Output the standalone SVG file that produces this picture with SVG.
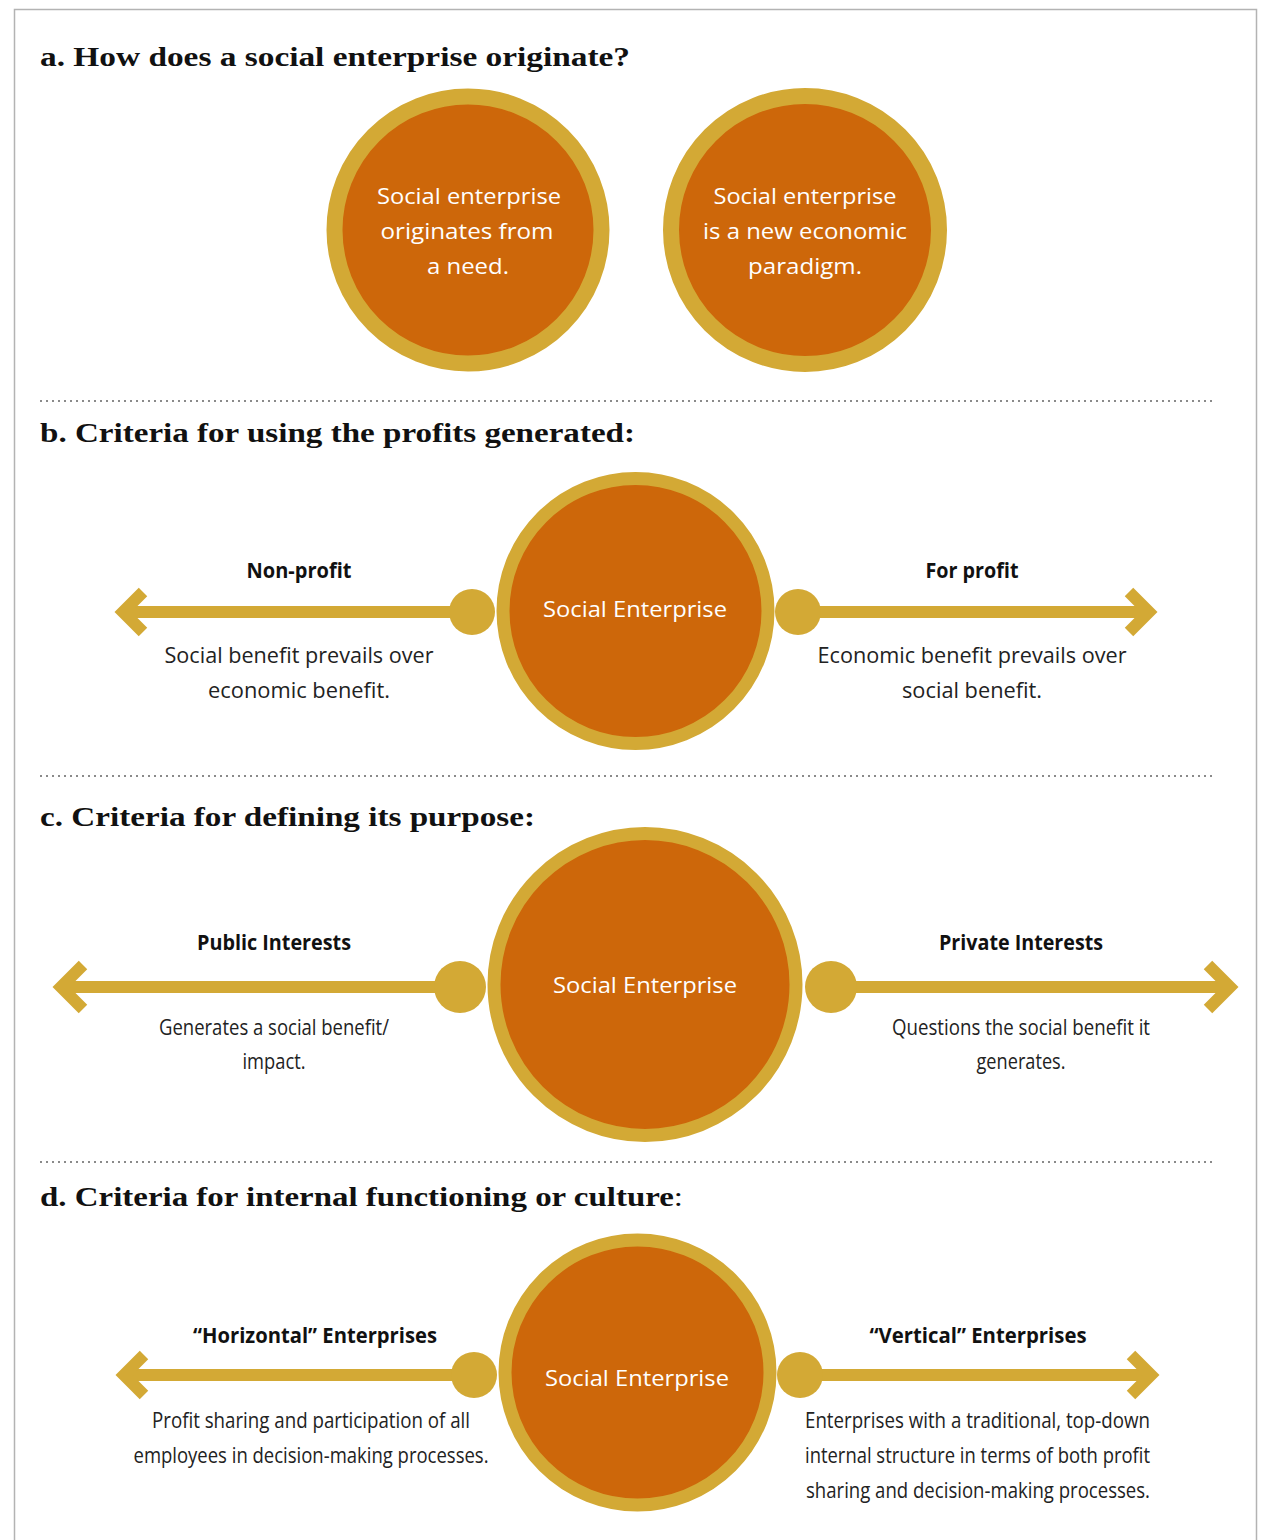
<svg xmlns="http://www.w3.org/2000/svg" width="1271" height="1540" viewBox="0 0 1271 1540">
<defs>
<style>
.frame{fill:none;stroke:#b3b3b3;stroke-width:1.5}
.sep{stroke:#8a8a8a;stroke-width:2;stroke-dasharray:2 4}
.ring{fill:#cd670a;stroke:#d3a935;stroke-width:16}
.ringb{fill:#cd670a;stroke:#d3a935;stroke-width:13}
.dot{fill:#d3a935}
.shaft{stroke:#d3a935;stroke-width:12;fill:none}
.head{stroke:#d3a935;stroke-width:12;fill:none;stroke-linejoin:miter;stroke-miterlimit:10}
.hdr{font-family:"Liberation Serif",serif;font-weight:bold;font-size:28px;fill:#111}
.wt{font-family:"Open Sans","Noto Sans",sans-serif;font-size:22px;fill:#fff;text-anchor:middle}
.lbl{font-family:"Open Sans","Noto Sans",sans-serif;font-weight:bold;font-size:21px;fill:#111;text-anchor:middle}
.desc{font-family:"Open Sans","Noto Sans",sans-serif;font-size:21px;fill:#222;text-anchor:middle}
</style>
</defs>
<rect class="frame" x="14.5" y="9.5" width="1242" height="1545"/>
<g id="separators">
<line class="sep" x1="40" y1="401" x2="1215" y2="401"/>
<line class="sep" x1="40" y1="776" x2="1215" y2="776"/>
<line class="sep" x1="40" y1="1162" x2="1215" y2="1162"/>
</g>
<g id="headers">
<text class="hdr" x="40" y="66" textLength="590" lengthAdjust="spacingAndGlyphs">a. How does a social enterprise originate?</text>
<text class="hdr" x="40" y="442" textLength="595" lengthAdjust="spacingAndGlyphs">b. Criteria for using the profits generated:</text>
<text class="hdr" x="40" y="826" textLength="495" lengthAdjust="spacingAndGlyphs">c. Criteria for defining its purpose:</text>
<text class="hdr" x="40" y="1206" textLength="643" lengthAdjust="spacingAndGlyphs">d. Criteria for internal functioning or culture<tspan font-weight="normal">:</tspan></text>
</g>
<g id="connectors">
<line class="shaft" x1="123" y1="612" x2="472" y2="612"/>
<polyline class="head" points="143,592 123,612 143,632"/>
<line class="shaft" x1="798" y1="612" x2="1149" y2="612"/>
<polyline class="head" points="1129,592 1149,612 1129,632"/>
<line class="shaft" x1="61" y1="987" x2="460" y2="987"/>
<polyline class="head" points="83,965 61,987 83,1009"/>
<line class="shaft" x1="831" y1="987" x2="1230" y2="987"/>
<polyline class="head" points="1208,965 1230,987 1208,1009"/>
<line class="shaft" x1="124" y1="1375" x2="474" y2="1375"/>
<polyline class="head" points="144,1355 124,1375 144,1395"/>
<line class="shaft" x1="800" y1="1375" x2="1151" y2="1375"/>
<polyline class="head" points="1131,1355 1151,1375 1131,1395"/>
<circle class="dot" cx="472" cy="612" r="23"/>
<circle class="dot" cx="798" cy="612" r="23"/>
<circle class="dot" cx="460" cy="987" r="26"/>
<circle class="dot" cx="831" cy="987" r="26"/>
<circle class="dot" cx="474" cy="1375" r="23"/>
<circle class="dot" cx="800" cy="1375" r="23"/>
</g>
<g id="node-a1">
<circle class="ring" cx="468" cy="230" r="133.5"/>
<text class="wt" x="469" y="204" textLength="184" lengthAdjust="spacingAndGlyphs">Social enterprise</text>
<text class="wt" x="467" y="239" textLength="173" lengthAdjust="spacingAndGlyphs">originates from</text>
<text class="wt" x="468" y="274" textLength="82" lengthAdjust="spacingAndGlyphs">a need.</text>
</g>
<g id="node-a2">
<circle class="ring" cx="805" cy="230" r="134"/>
<text class="wt" x="805" y="204" textLength="183" lengthAdjust="spacingAndGlyphs">Social enterprise</text>
<text class="wt" x="805" y="239" textLength="204" lengthAdjust="spacingAndGlyphs">is a new economic</text>
<text class="wt" x="805" y="274" textLength="114" lengthAdjust="spacingAndGlyphs">paradigm.</text>
</g>
<g id="node-b">
<circle class="ringb" cx="635.5" cy="611" r="132.5"/>
<text class="wt" x="635" y="617" textLength="184" lengthAdjust="spacingAndGlyphs">Social Enterprise</text>
</g>
<g id="label-b-left">
<text class="lbl" x="299" y="578" textLength="105" lengthAdjust="spacingAndGlyphs">Non-profit</text>
<text class="desc" x="299" y="663" textLength="269" lengthAdjust="spacingAndGlyphs">Social benefit prevails over</text>
<text class="desc" x="299" y="698" textLength="182" lengthAdjust="spacingAndGlyphs">economic benefit.</text>
</g>
<g id="label-b-right">
<text class="lbl" x="972" y="578" textLength="93" lengthAdjust="spacingAndGlyphs">For profit</text>
<text class="desc" x="972" y="663" textLength="309" lengthAdjust="spacingAndGlyphs">Economic benefit prevails over</text>
<text class="desc" x="972" y="698" textLength="140" lengthAdjust="spacingAndGlyphs">social benefit.</text>
</g>
<g id="node-c">
<circle class="ringb" cx="645" cy="984.5" r="151" stroke-width="14"/>
<text class="wt" x="645" y="993" textLength="184" lengthAdjust="spacingAndGlyphs">Social Enterprise</text>
</g>
<g id="label-c-left">
<text class="lbl" x="274" y="950" textLength="154" lengthAdjust="spacingAndGlyphs">Public Interests</text>
<text class="desc" x="274" y="1035" textLength="230" lengthAdjust="spacingAndGlyphs">Generates a social benefit/</text>
<text class="desc" x="274" y="1069" textLength="63" lengthAdjust="spacingAndGlyphs">impact.</text>
</g>
<g id="label-c-right">
<text class="lbl" x="1021" y="950" textLength="164" lengthAdjust="spacingAndGlyphs">Private Interests</text>
<text class="desc" x="1021" y="1035" textLength="258" lengthAdjust="spacingAndGlyphs">Questions the social benefit it</text>
<text class="desc" x="1021" y="1069" textLength="89" lengthAdjust="spacingAndGlyphs">generates.</text>
</g>
<g id="node-d">
<circle class="ringb" cx="637.5" cy="1372.5" r="132.5"/>
<text class="wt" x="637" y="1386" textLength="184" lengthAdjust="spacingAndGlyphs">Social Enterprise</text>
</g>
<g id="label-d-left">
<text class="lbl" x="315" y="1343" textLength="244" lengthAdjust="spacingAndGlyphs">“Horizontal” Enterprises</text>
<text class="desc" x="311" y="1428" textLength="318" lengthAdjust="spacingAndGlyphs">Profit sharing and participation of all</text>
<text class="desc" x="311" y="1463" textLength="355" lengthAdjust="spacingAndGlyphs">employees in decision-making processes.</text>
</g>
<g id="label-d-right">
<text class="lbl" x="978" y="1343" textLength="217" lengthAdjust="spacingAndGlyphs">“Vertical” Enterprises</text>
<text class="desc" x="977.5" y="1428" textLength="345" lengthAdjust="spacingAndGlyphs">Enterprises with a traditional, top-down</text>
<text class="desc" x="977.5" y="1463" textLength="345" lengthAdjust="spacingAndGlyphs">internal structure in terms of both profit</text>
<text class="desc" x="978" y="1498" textLength="344" lengthAdjust="spacingAndGlyphs">sharing and decision-making processes.</text>
</g>
</svg>
